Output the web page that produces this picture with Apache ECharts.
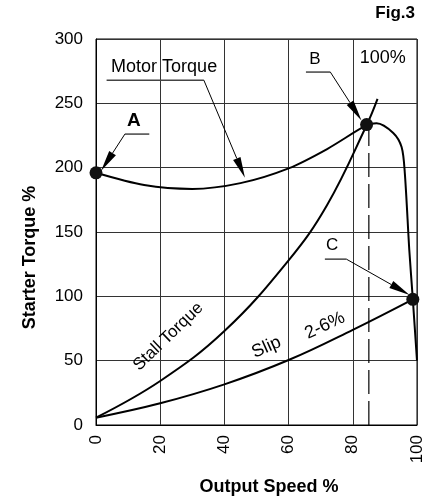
<!DOCTYPE html>
<html><head><meta charset="utf-8">
<script src="https://cdn.jsdelivr.net/npm/echarts@6/dist/echarts.min.js"></script>
<style>html,body{margin:0;padding:0;background:#fff}#c{width:433px;height:502px}</style>
</head><body><div id="c"></div>
<script>
// ---- data ----
const motorTorque = [[0,196],[15,186.5],[30,183.5],[45,188],[60,199.5],[72,214.5],[84.3,233],[87.4,234.6],[92.6,227],[95.2,216],[96.2,196],[97.6,136],[98.7,97.7],[100,50]];
const stallTorque = [[0,5.7],[20,34.2],[40,73],[60,128],[72,171],[84.3,233],[87.7,253.5]];
const slipTorque = [[0,5.7],[20,16.9],[40,31.6],[60,50.5],[80,74],[98.7,97.7]];
const ratedSpeedLine = [[85,0],[85,233]];
const keyPoints = [[0,196],[84.3,233.5],[98.7,97.7]];
const keyNames = ['A','B','C'];
const xTickValues = [0,20,40,60,80,100];
const yTickValues = [0,50,100,150,200,250,300];

// annotation texts (data coords)
const labels = [
  {text:'Motor Torque', at:[4.7,278.4], align:'left', rot:0, size:18, bold:false},
  {text:'A', at:[11.8,236.8], align:'center', rot:0, size:19, bold:true},
  {text:'B', at:[68.2,283.9], align:'center', rot:0, size:17, bold:false},
  {text:'C', at:[73.6,140], align:'center', rot:0, size:17, bold:false},
  {text:'100%', at:[89.3,284.9], align:'center', rot:0, size:18, bold:false},
  {text:'Stall Torque', at:[22.5,68.7], align:'center', rot:44, size:17, bold:false},
  {text:'Slip', at:[53.1,60.3], align:'center', rot:24, size:18, bold:false},
  {text:'2-6%', at:[71.3,77.2], align:'center', rot:25, size:18, bold:false}
];
// leader lines: underline, start of leader, arrow tip (data coords)
const leaders = [
  {under:[[3.3,268],[33.6,268]], from:[33.6,268], tip:[46.4,192.1]},
  {under:[[9.0,226.1],[16.6,226.1]], from:[9.0,226.1], tip:[1.6,197.6]},
  {under:[[65.4,274.3],[73.0,274.3]], from:[73.0,274.3], tip:[82.7,236.7]},
  {under:[[71.3,128.9],[78.0,128.9]], from:[78.0,128.9], tip:[97.7,101.1]}
];

const FONT = "'Liberation Sans', Arial, Helvetica, sans-serif";
const chart = echarts.init(document.getElementById('c'), null, {renderer:'canvas'});
const curve = (data, sm) => ({type:'line', data, smooth:sm, symbol:'none',
  lineStyle:{color:'#000', width:2}, z:3, silent:true, clip:false});

chart.setOption({
  animation:false,
  backgroundColor:'#fff',
  textStyle:{fontFamily:FONT},
  title:{text:'Fig.3', right:18, top:5, padding:0,
    textStyle:{fontFamily:FONT, fontSize:17, fontWeight:'bold', color:'#000'}},
  grid:{left:96, right:16, top:39, bottom:77, show:true, borderColor:'#000', borderWidth:1},
  xAxis:{type:'value', min:0, max:100, interval:20,
    name:'Output Speed %', nameLocation:'middle', nameGap:53,
    nameTextStyle:{fontFamily:FONT, fontSize:18, fontWeight:'bold', color:'#000', padding:[0,0,0,25]},
    axisLine:{show:true, lineStyle:{color:'#000'}}, axisTick:{show:false},
    axisLabel:{rotate:90, fontSize:17, color:'#000', margin:10, fontFamily:FONT,
      formatter:(v)=> xTickValues.includes(v) ? String(v) : ''},
    splitLine:{show:true, lineStyle:{color:'#333', width:1}}},
  yAxis:{type:'value', min:0, max:300, interval:50,
    name:'Starter Torque %', nameLocation:'middle', nameGap:57,
    nameTextStyle:{fontFamily:FONT, fontSize:18, fontWeight:'bold', color:'#000', padding:[0,51,0,0]},
    axisLine:{show:true, lineStyle:{color:'#000'}}, axisTick:{show:false},
    axisLabel:{fontSize:17, color:'#000', margin:13, fontFamily:FONT,
      formatter:(v)=> yTickValues.includes(v) ? String(v) : ''},
    splitLine:{show:true, lineStyle:{color:'#333', width:1}}},
  series:[
    Object.assign(curve(motorTorque, 0.3), {name:'Motor Torque'}),
    Object.assign(curve(stallTorque, 0.4), {name:'Stall Torque'}),
    Object.assign(curve(slipTorque, 0.4), {name:'Slip'}),
    {type:'line', name:'Rated speed', data:ratedSpeedLine, symbol:'none', silent:true,
      lineStyle:{color:'#000', width:1.2, type:[24,7]}, z:2},
    {type:'scatter', name:'Points', data:keyPoints.map((p,i)=>({name:keyNames[i], value:p})),
      symbol:'circle', symbolSize:13, itemStyle:{color:'#111', opacity:1}, z:5, clip:false, silent:true}
  ]
});

function px(p){ return chart.convertToPixel({gridIndex:0}, p); }
const g = [];
leaders.forEach(l => {
  const a = px(l.under[0]), b = px(l.under[1]), s = px(l.from), t = px(l.tip);
  g.push({type:'line', shape:{x1:a[0],y1:a[1],x2:b[0],y2:b[1]}, style:{stroke:'#444', lineWidth:1.5}, z:10});
  const dx=t[0]-s[0], dy=t[1]-s[1], L=Math.hypot(dx,dy), ux=dx/L, uy=dy/L;
  const AL=21, AW=4;
  const base=[t[0]-ux*AL, t[1]-uy*AL];
  g.push({type:'line', shape:{x1:s[0],y1:s[1],x2:base[0],y2:base[1]}, style:{stroke:'#000', lineWidth:1}, z:10});
  g.push({type:'polygon', shape:{points:[t,[base[0]-uy*AW, base[1]+ux*AW],[base[0]+uy*AW, base[1]-ux*AW]]},
    style:{fill:'#000'}, z:10});
});
labels.forEach(l => {
  const p = px(l.at);
  g.push({type:'text', x:p[0], y:p[1], rotation:l.rot*Math.PI/180, z:11,
    style:{text:l.text, fill:'#000', align:l.align, verticalAlign:'middle',
      font:(l.bold?'bold ':'')+l.size+'px '+FONT}});
});
chart.setOption({graphic:g});
</script></body></html>
